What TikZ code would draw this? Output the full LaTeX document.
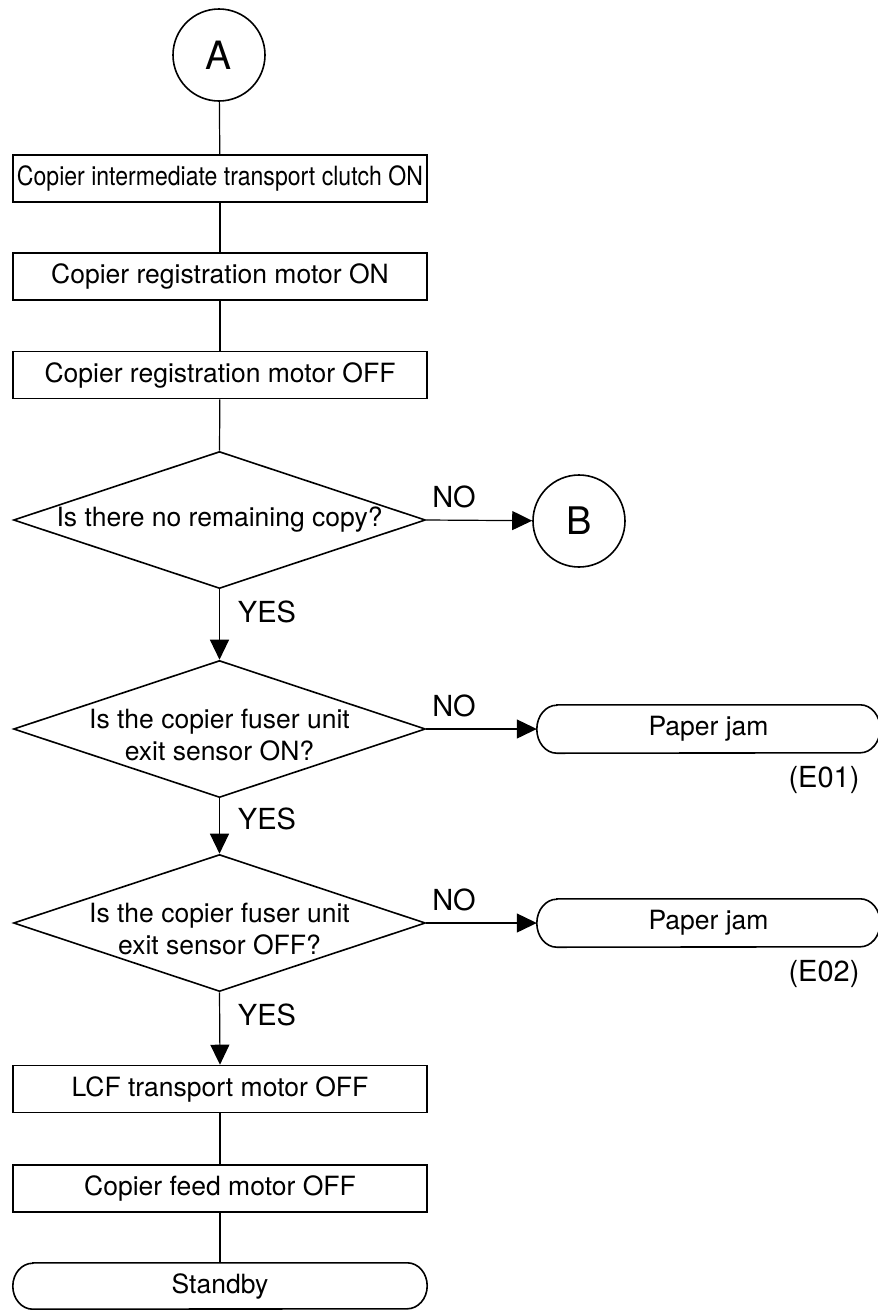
\documentclass[tikz,border=0pt]{standalone}
\usepackage{fontspec}
\setmainfont{TeX Gyre Heros}
\usepackage{graphicx}
\usetikzlibrary{shapes.geometric,arrows.meta}

\begin{document}
\begin{tikzpicture}[x=1pt,y=-1pt,
  every node/.style={font=\fontsize{26.5}{32}\selectfont},
  process/.style={draw,line width=1.6pt,rectangle,minimum width=414pt,minimum height=47pt,inner sep=0pt},
  decide/.style={draw,line width=1.6pt,diamond,minimum width=412pt,minimum height=137pt,inner sep=0pt},
  connector/.style={draw,line width=1.6pt,circle,minimum size=92pt,inner sep=0pt,font=\fontsize{39}{39}\selectfont},
  termnode/.style={minimum height=47pt,inner sep=0pt},
  qtext/.style={align=center,yshift=-6pt,inner sep=0pt},
  lbl/.style={font=\fontsize{29}{29}\selectfont,inner sep=0pt},
  flow/.style={line width=1.2pt},
  arrowline/.style={flow,-{Triangle[length=20pt,width=19pt]}}
]
\useasboundingbox (0,0) rectangle (878,1310);

%Shape: Circle
\node[connector] (A) at (219,55) {A};
%Shape: Rectangle
\node[process] (clutch) at (220,178.5) {\scalebox{0.87}[1]{Copier intermediate transport clutch ON}};
\node[process] (regon) at (220,276.5) {Copier registration motor ON};
\node[process] (regoff) at (220,375) {Copier registration motor OFF};
%Shape: Diamond
\node[decide,label={[qtext,yshift=6pt]center:Is there no remaining copy?}] (remain) at (219.5,520) {};
\node[decide,label={[qtext]center:{Is the copier fuser unit\\exit sensor ON?}}] (exiton) at (219.5,729) {};
\node[decide,label={[qtext]center:{Is the copier fuser unit\\exit sensor OFF?}}] (exitoff) at (219.5,923) {};
%Shape: Circle
\node[connector,font=\fontsize{38}{38}\selectfont] (B) at (579,521) {B};
%Shape: Terminal
\node[termnode,minimum width=343pt,minimum height=48pt] (jamone) at (708.5,729) {Paper jam};
\draw[line width=1.6pt] ([xshift=20pt]jamone.north west) -- ([xshift=-20pt]jamone.north east) arc[start angle=90,end angle=-90,x radius=20pt,y radius=24pt] -- ([xshift=20pt]jamone.south west) arc[start angle=270,end angle=90,x radius=20pt,y radius=24pt] -- cycle;
\node[termnode,minimum width=343pt,minimum height=48pt] (jamtwo) at (708.5,923) {Paper jam};
\draw[line width=1.6pt] ([xshift=20pt]jamtwo.north west) -- ([xshift=-20pt]jamtwo.north east) arc[start angle=90,end angle=-90,x radius=20pt,y radius=24pt] -- ([xshift=20pt]jamtwo.south west) arc[start angle=270,end angle=90,x radius=20pt,y radius=24pt] -- cycle;
%Shape: Rectangle
\node[process] (lcfoff) at (220,1089) {LCF transport motor OFF};
\node[process] (feedoff) at (220,1188.5) {Copier feed motor OFF};
%Shape: Terminal
\node[termnode,minimum width=414pt,minimum height=46pt] (standby) at (220,1286) {Standby};
\draw[line width=1.6pt] ([xshift=20pt]standby.north west) -- ([xshift=-20pt]standby.north east) arc[start angle=90,end angle=-90,x radius=20pt,y radius=23pt] -- ([xshift=20pt]standby.south west) arc[start angle=270,end angle=90,x radius=20pt,y radius=23pt] -- cycle;

%Straight Lines
\draw[flow] (A) -- (clutch);
\draw[flow] (clutch) -- (regon);
\draw[flow] (regon) -- (regoff);
\draw[flow] (regoff) -- (remain.north);
\draw[arrowline] (remain.east) -- (B);
\draw[arrowline] (remain.south) -- (exiton.north);
\draw[arrowline] (exiton.east) -- (jamone.west);
\draw[arrowline] (exiton.south) -- (exitoff.north);
\draw[arrowline] (exitoff.east) -- (jamtwo.west);
\draw[arrowline] (exitoff.south) -- (lcfoff.north);
\draw[flow] (lcfoff) -- (feedoff);
\draw[flow] (feedoff) -- (standby.north);

% Text Node
\node[lbl] (noone) at (454,497) {NO};
\node[lbl] (yesone) at (267,612) {YES};
\node[lbl] (notwo) at (454,706) {NO};
\node[lbl] (eone) at (824,780) {(E01)};
\node[lbl] (yestwo) at (267,819) {YES};
\node[lbl] (nothree) at (454,900) {NO};
\node[lbl] (etwo) at (824,974) {(E02)};
\node[lbl] (yesthree) at (267,1015) {YES};

\end{tikzpicture}
\end{document}
